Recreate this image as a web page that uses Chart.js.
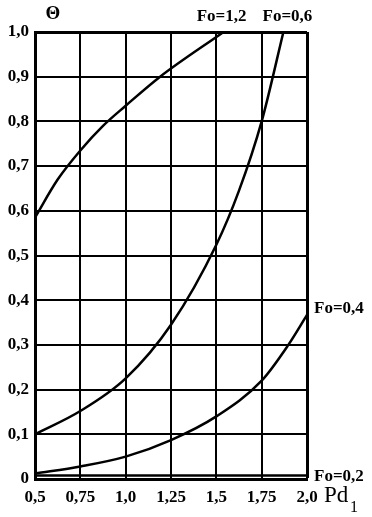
<!DOCTYPE html>
<html>
<head>
<meta charset="utf-8">
<script src="https://cdn.jsdelivr.net/npm/chart.js@4"></script>
<style>
  html, body { margin: 0; padding: 0; background: #fff; }
  #wrap { width: 372px; height: 517px; }
</style>
</head>
<body>
<div id="wrap"><canvas id="chart" width="372" height="517"></canvas></div>
<script>
// Pd1 values and Θ values
const fo12Pd    = [0.5, 0.625, 0.75, 0.875, 1.0, 1.19, 1.54];
const fo12Theta = [0.585, 0.67, 0.735, 0.79, 0.835, 0.90, 1.0];

const fo06Pd    = [0.5, 0.75, 1.0, 1.25, 1.5, 1.625, 1.75, 1.87];
const fo06Theta = [0.1, 0.152, 0.225, 0.345, 0.524, 0.645, 0.8, 1.0];

const fo04Pd    = [0.5, 0.75, 1.0, 1.25, 1.5, 1.75, 1.897, 2.0];
const fo04Theta = [0.012, 0.028, 0.05, 0.087, 0.14, 0.22, 0.3, 0.367];

const fo02Pd    = [0.5, 2.0];
const fo02Theta = [0.008, 0.008];

const seriesLabels = ['Fo=1,2', 'Fo=0,6', 'Fo=0,4', 'Fo=0,2'];

const xTicks = [0.5, 0.75, 1.0, 1.25, 1.5, 1.75, 2.0];
const xTickLabels = ['0,5', '0,75', '1,0', '1,25', '1,5', '1,75', '2,0'];
const yTicks = [0, 0.1, 0.2, 0.3, 0.4, 0.5, 0.6, 0.7, 0.8, 0.9, 1.0];
const yTickLabels = ['0', '0,1', '0,2', '0,3', '0,4', '0,5', '0,6', '0,7', '0,8', '0,9', '1,0'];

const SERIF = '"Liberation Serif", "DejaVu Serif", serif';

const toPoints = (xs, ys) => xs.map((x, i) => ({ x: x, y: ys[i] }));
const curve = (label, xs, ys) => ({
    label: label,
    data: toPoints(xs, ys),
    borderColor: '#000',
    borderWidth: 2.5,
    pointRadius: 0,
    fill: false,
    cubicInterpolationMode: 'monotone'
});

const textPlugin = {
    id: 'texts',
    afterDraw(chart) {
        const c = chart.ctx;
        const xs = chart.scales.x, ys = chart.scales.y, area = chart.chartArea;
        c.save();
        c.fillStyle = '#000';
        c.textBaseline = 'middle';

        c.font = 'bold 17px ' + SERIF;
        c.textAlign = 'center';
        c.fillText(seriesLabels[0], xs.getPixelForValue(fo12Pd[fo12Pd.length - 1]) - 2, 17);
        c.fillText(seriesLabels[1], xs.getPixelForValue(fo06Pd[fo06Pd.length - 1]) + 4, 17);
        c.textAlign = 'left';
        c.fillText(seriesLabels[2], area.right + 7, ys.getPixelForValue(fo04Theta[fo04Theta.length - 1]) - 6);
        c.fillText(seriesLabels[3], area.right + 7, ys.getPixelForValue(fo02Theta[fo02Theta.length - 1]) + 1);

        // axis titles
        c.font = 'bold 19px ' + SERIF;
        c.textAlign = 'center';
        c.fillText('Θ', 53, 14);
        c.font = '23px ' + SERIF;
        c.textAlign = 'left';
        c.fillText('Pd', 324, 496);
        c.font = '16px ' + SERIF;
        c.fillText('1', 350, 508);
        c.restore();
    }
};

const edgeWidth = (max) => (ctx) => (ctx.tick && Math.abs(ctx.tick.value - max) < 1e-9 ? 3 : 2);

new Chart(document.getElementById('chart').getContext('2d'), {
    type: 'line',
    data: {
        datasets: [
            curve(seriesLabels[0], fo12Pd, fo12Theta),
            curve(seriesLabels[1], fo06Pd, fo06Theta),
            curve(seriesLabels[2], fo04Pd, fo04Theta),
            curve(seriesLabels[3], fo02Pd, fo02Theta)
        ]
    },
    options: {
        responsive: false,
        animation: false,
        devicePixelRatio: 1,
        layout: { padding: { top: 32, right: 65, left: 0, bottom: 0 } },
        plugins: { legend: { display: false }, tooltip: { enabled: false } },
        scales: {
            x: {
                type: 'linear',
                min: 0.5,
                max: 2.0,
                afterBuildTicks(s) { s.ticks = xTicks.map(v => ({ value: v })); },
                afterFit(s) { s.height = 38; },
                ticks: {
                    callback: (v) => xTickLabels[xTicks.indexOf(v)],
                    color: '#000',
                    font: { family: SERIF, size: 17, weight: 'bold' },
                    padding: 8,
                    maxRotation: 0,
                    autoSkip: false
                },
                grid: { color: '#000', lineWidth: edgeWidth(2.0), drawTicks: false },
                border: { color: '#000', width: 3 }
            },
            y: {
                type: 'linear',
                min: 0,
                max: 1.0,
                afterBuildTicks(s) { s.ticks = yTicks.map(v => ({ value: v })); },
                afterFit(s) { s.width = 35; },
                ticks: {
                    callback: (v) => yTickLabels[yTicks.indexOf(v)],
                    color: '#000',
                    font: { family: SERIF, size: 17, weight: 'bold' },
                    padding: 6,
                    autoSkip: false
                },
                grid: { color: '#000', lineWidth: edgeWidth(1.0), drawTicks: false },
                border: { color: '#000', width: 3 }
            }
        }
    },
    plugins: [textPlugin]
});
</script>
</body>
</html>
